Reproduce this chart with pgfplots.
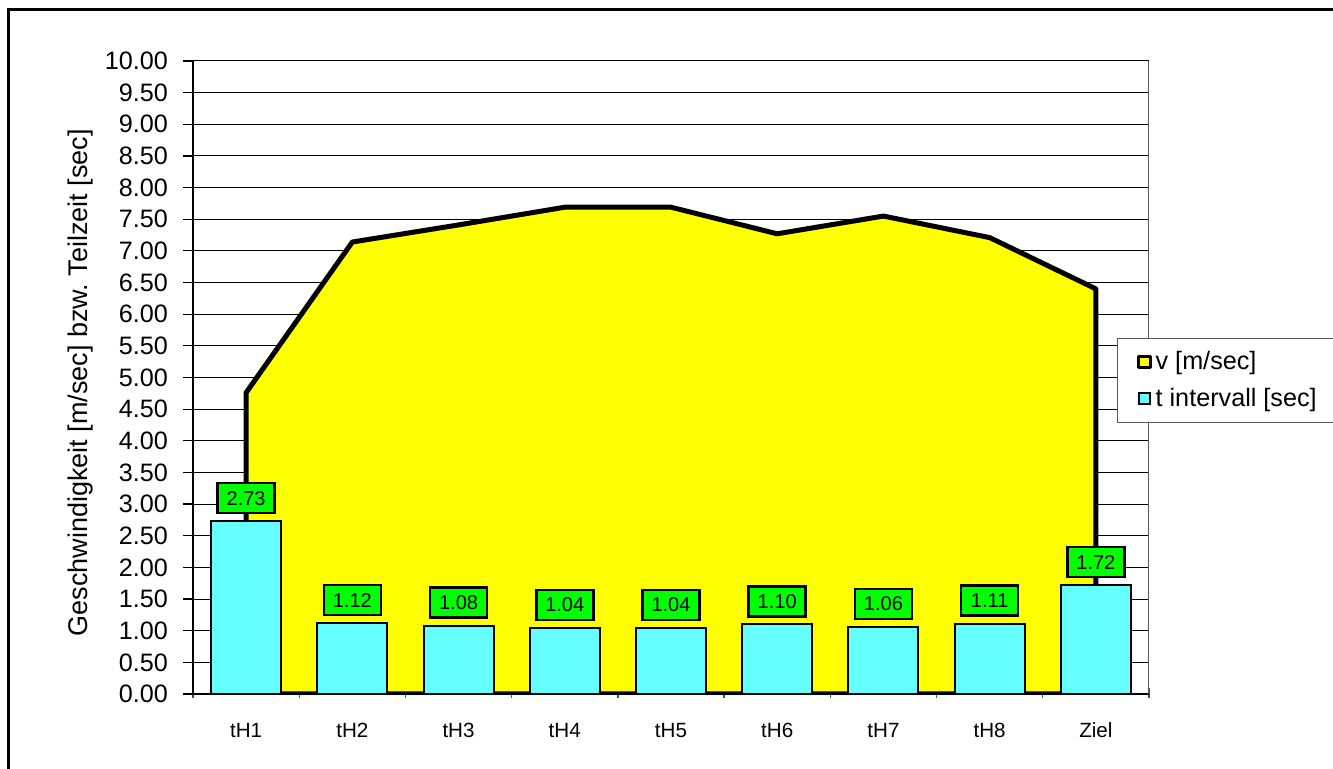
\documentclass[border=0pt]{standalone}
\usepackage{fontspec}
\setmainfont{Liberation Sans}
\usepackage{pgfplots}
\pgfplotsset{compat=1.18}
\definecolor{barcyan}{RGB}{102,255,255}
\definecolor{areayellow}{RGB}{255,255,0}
\definecolor{lblgreen}{RGB}{0,255,0}
\pgfplotsset{
  vlegend/.style={legend image code/.code={\draw[##1, line width=1.5pt] (0pt,-2.8pt) rectangle (5.6pt,2.8pt);}},
  tlegend/.style={legend image code/.code={\draw[##1, line width=0.8pt] (0pt,-2.8pt) rectangle (5.6pt,2.8pt);}},
}
\frenchspacing
\begin{document}
\begin{tikzpicture}
\begin{axis}[
  name=ax,
  scale only axis, width=478pt, height=316.5pt,
  xmin=-0.5, xmax=8.5, ymin=0, ymax=10,
  axis x line*=bottom, axis y line*=left,
  axis line style={black, line width=0.6pt},
  /pgf/number format/assume math mode=true,
  ytick={0,0.5,...,10},
  yticklabel style={xshift=-4pt, font=\fontsize{12.6}{14}\selectfont, /pgf/number format/.cd, fixed, fixed zerofill, precision=2},
  ymajorgrids, grid style={black, line width=0.5pt},
  tick align=outside, major tick length=5pt,
  tick style={black, line width=0.6pt},
  xtick={-0.5,0.5,...,8.5}, xticklabels={{},{},{},{},{},{},{},{},{},{}},
  x tick style={yshift=3pt, gray!60!black, line width=0.7pt},
  extra x ticks={0,1,2,3,4,5,6,7,8},
  extra x tick labels={tH1,tH2,tH3,tH4,tH5,tH6,tH7,tH8,Ziel},
  extra x tick style={major tick length=0pt, tick style={draw=none}, xticklabel style={font=\fontsize{10.3}{12}\selectfont, anchor=base, yshift=-22pt}},
  ylabel={Geschwindigkeit [m/sec] bzw. Teilzeit [sec]},
  ylabel style={at={(axis description cs:-0.118,0.492)}, anchor=center, rotate=0, font=\fontsize{13.5}{15}\selectfont},
  legend style={at={(0.9665,0.5624)}, anchor=north west, draw=gray!70!black, line width=0.5pt,
    font=\fontsize{12.6}{14}\selectfont, row sep=3.5pt, inner ysep=4.5pt, inner xsep=10pt, cells={anchor=west}},
]
\addplot[fill=areayellow, draw=black, line width=2.5pt, line join=round, area legend, vlegend]
  coordinates {(0,4.76) (1,7.14) (2,7.41) (3,7.69) (4,7.69) (5,7.27) (6,7.55) (7,7.21) (8,6.40)} \closedcycle;
\addlegendentry{\makebox[100pt][l]{v [m/sec]}}
\addplot[ybar, bar width=35pt, bar shift=0pt, fill=barcyan, draw=black, line width=1pt, tlegend,
  nodes near coords={\pgfmathprintnumber[fixed,fixed zerofill,precision=2]{\pgfplotspointmeta}},
  nodes near coords style={fill=lblgreen, draw=black, line width=1.25pt, minimum width=28.5pt, minimum height=15pt,
    inner sep=0pt, anchor=south, yshift=3.4pt, text=black, font=\fontsize{10}{12}\selectfont, /pgf/number format/assume math mode=true}]
  coordinates {(0,2.73) (1,1.12) (2,1.08) (3,1.04) (4,1.04) (5,1.10) (6,1.06) (7,1.11) (8,1.72)};
\addlegendentry{\makebox[100pt][l]{t intervall [sec]}}
\draw[gray!70!black, line width=0.6pt] (rel axis cs:1,0) -- (rel axis cs:1,1);
\end{axis}
\draw[line width=1.5pt] ([shift={(-92pt,-100pt)}]ax.south west) -- ([shift={(-92pt,342pt)}]ax.south west) -- ([shift={(700pt,342pt)}]ax.south west);
\pgfresetboundingbox
\useasboundingbox ([shift={(-96.5pt,-37.5pt)}]ax.south west) rectangle ([shift={(570pt,347pt)}]ax.south west);
\end{tikzpicture}
\end{document}
